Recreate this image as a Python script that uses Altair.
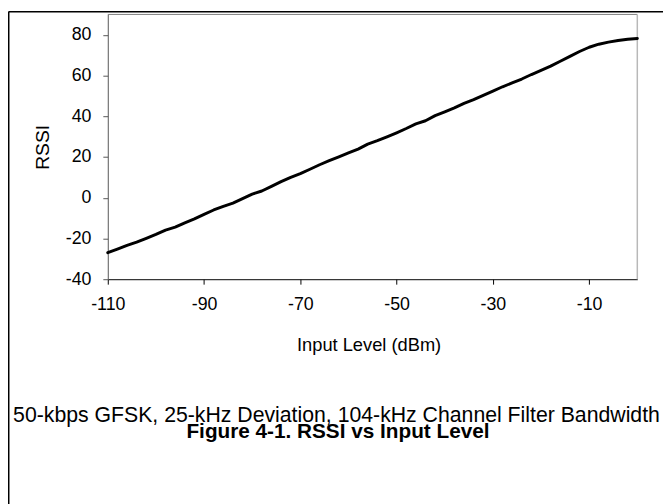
import altair as alt
import pandas as pd

# ---- data ----
input_level = [-110, -108, -106, -104, -102, -100, -98, -96, -94, -92,
               -90, -88, -86, -84, -82, -80, -78, -76, -74, -72,
               -70, -68, -66, -64, -62, -60, -58, -56, -54, -52,
               -50, -48, -46, -44, -42, -40, -38, -36, -34, -32,
               -30, -28, -26, -24, -22, -20, -18, -16, -14, -12,
               -10, -8, -6, -4, -2, 0]
rssi = [-27.0, -25.2, -23.4, -21.8, -19.9, -18.0, -15.9, -14.4, -12.3, -10.4,
        -8.2, -6.0, -4.2, -2.6, -0.4, 1.8, 3.3, 5.6, 7.9, 10.0,
        11.8, 14.0, 16.2, 18.2, 20.1, 22.0, 23.9, 26.3, 28.0, 29.9,
        31.9, 34.0, 36.3, 37.8, 40.3, 42.2, 44.1, 46.3, 48.2, 50.3,
        52.4, 54.5, 56.4, 58.3, 60.5, 62.5, 64.6, 67.0, 69.4, 71.8,
        73.9, 75.4, 76.4, 77.2, 77.8, 78.2]
x_ticks = [-110, -90, -70, -50, -30, -10]
y_ticks = [-40, -20, 0, 20, 40, 60, 80]
x_domain = [-110, 0]
y_domain = [-40, 90]
x_title = "Input Level (dBm)"
y_title = "RSSI"
caption = "50-kbps GFSK, 25-kHz Deviation, 104-kHz Channel Filter Bandwidth"
figure_title = "Figure 4-1. RSSI vs Input Level"

df = pd.DataFrame({"level": input_level, "rssi": rssi})
one = pd.DataFrame({"caption": [caption], "figure_title": [figure_title]})

FONT = "Liberation Sans"
W, H = 536, 268

x_enc = alt.X(
    "level:Q",
    scale=alt.Scale(domain=x_domain, nice=False, zero=False),
    axis=alt.Axis(
        values=x_ticks, title=x_title, grid=False,
        labelExpr="'' + datum.value",
        tickSize=5, labelPadding=12, labelFontSize=18, labelFont=FONT,
        labelColor="black", labelFlush=False, labelOverlap=False,
        domainColor="black", tickColor="black", domainWidth=1, tickWidth=1,
        titleFont=FONT, titleFontSize=18.5,
        titleFontWeight="normal", titleColor="black",
        titleX=264, titleY=72, titleBaseline="alphabetic", titleAlign="center",
    ),
)
y_enc = alt.Y(
    "rssi:Q",
    scale=alt.Scale(domain=y_domain, nice=False, zero=False),
    axis=alt.Axis(
        values=y_ticks, title=y_title, grid=False,
        labelExpr="'' + datum.value",
        tickSize=5, labelPadding=12, labelFontSize=18, labelFont=FONT,
        labelColor="black", labelFlush=False, labelOverlap=False,
        domainColor="#555555", tickColor="#555555", domainWidth=1, tickWidth=1,
        titleFont=FONT, titleFontSize=19.5, titleFontWeight="normal",
        titleColor="black", titleX=-66, titleY=H / 2,
        titleBaseline="middle", titleAlign="center",
    ),
)

line = alt.Chart(df).mark_line(
    color="black", strokeWidth=3, strokeJoin="round", strokeCap="round"
).encode(x=x_enc, y=y_enc)

top_border = alt.Chart(one).mark_rule(color="#808080", strokeWidth=1).encode(
    y=alt.datum(y_domain[1])
)
right_border = alt.Chart(one).mark_rule(color="#b8b8b8", strokeWidth=1.5).encode(
    x=alt.datum(x_domain[1])
)

frame_top = alt.Chart(one).mark_rule(color="black", strokeWidth=1.5).encode(
    x=alt.value(-100.25), x2=alt.value(W + 30), y=alt.value(-2.75)
)
frame_left = alt.Chart(one).mark_rule(color="black", strokeWidth=1.5).encode(
    x=alt.value(-100.25), y=alt.value(-3), y2=alt.value(H + 230)
)

caption_text = alt.Chart(one).mark_text(
    font=FONT, fontSize=21.5, color="black", align="center", baseline="alphabetic"
).encode(x=alt.value(231.5), y=alt.value(413), text="caption:N")

title_text = alt.Chart(one).mark_text(
    font=FONT, fontSize=21, fontWeight="bold", color="black",
    align="center", baseline="alphabetic"
).encode(x=alt.value(233), y=alt.value(428.5), text="figure_title:N")

chart = alt.layer(
    top_border, right_border, line, frame_top, frame_left, caption_text, title_text
).properties(
    width=W, height=H,
    autosize=alt.AutoSizeParams(type="none"),
    padding={"left": 101, "top": 3.5, "right": 26, "bottom": 224.5},
    background="white",
).configure_view(strokeWidth=0)

chart.save("out.html", embed_options={"renderer": "svg", "actions": False})
